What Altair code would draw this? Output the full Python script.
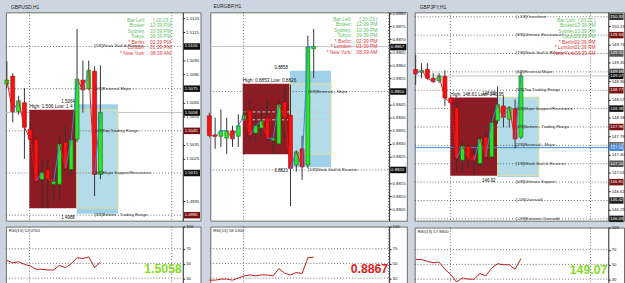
import altair as alt
import pandas as pd

FONT = "Liberation Sans"
C_UP = "#28e628"
C_DN = "#f41414"
C_UP_EDGE = "#0e6e0e"
C_DN_EDGE = "#a00000"
L_UP = "#3f7fe0"
L_DN = "#e01818"
BOX_DARK = "#8c1b24"
BOX_BLUE = "#9fd2ea"
BOX_INNER = "#e6dc98"

INFO_LABELS = ["Bar Left:", "Broker:", "Sydney:", "Tokyo:", "* Berlin:", "* London:", "* New York:"]
INFO_COLORS = ["#5cbf62", "#5cbf62", "#5cbf62", "#5cbf62", "#e03a3a", "#e03a3a", "#e03a3a"]
INFO_VALUES_A = ["[ 20:23 ]", "12:39 PM", "10:39 PM", "09:39 PM", "02:39 PM", "01:39 PM", "08:39 AM"]
INFO_VALUES_B = ["[ 20:22 ]", "12:39 PM", "10:39 PM", "09:39 PM", "02:39 PM", "01:39 PM", "08:39 AM"]
RSI_LEVELS = [70, 50, 30]
RSI_TICKS = [100, 70, 50, 30]

# ---------------- GBPUSD H1 ----------------
GU_O = [1.50783, 1.50839, 1.50587, 1.50650, 1.50461, 1.50391, 1.50105, 1.50175, 1.50070,
        1.50070, 1.50370, 1.50175, 1.50391, 1.50811, 1.50748, 1.50874, 1.50140]
GU_H = [1.50944, 1.50860, 1.50699, 1.50755, 1.50510, 1.50405, 1.50231, 1.50251, 1.50125,
        1.50419, 1.50489, 1.50419, 1.51174, 1.50950, 1.50950, 1.50909, 1.50916]
GU_L = [1.50755, 1.50510, 1.50566, 1.50251, 1.50370, 1.50077, 1.49902, 1.49902, 1.49951,
        1.49951, 1.50161, 1.50147, 1.50370, 1.50580, 1.50741, 1.49986, 1.50105]
GU_C = [1.50811, 1.50587, 1.50664, 1.50475, 1.50391, 1.50091, 1.50154, 1.50105, 1.50091,
        1.50356, 1.50182, 1.50384, 1.50818, 1.50741, 1.50881, 1.50140, 1.50580]
GU_RSI = [54.0, 50.9, 52.3, 48.7, 46.4, 42.0, 42.0, 41.1, 41.1, 47.3, 44.3, 49.6, 57.6, 56.7, 58.9, 44.3, 52.07]
GU_YDOM = [1.49811, 1.51293]
GU_TICKS = [1.5125, 1.5115, 1.5095, 1.5085, 1.5065, 1.5055, 1.5035, 1.5025, 1.4995]
GU_MM_P = [1.5105, 1.5075, 1.5045, 1.5015, 1.4985]
GU_MM_T = ["[7/8]Weak Stall & Reverse", "[6/8]Reversal Major", "[5/8]Top Trading Range",
           "[4/8]Major Support/Resistance", "[3/8]Bottom - Trading Range"]
GU_HL_P = [1.5105, 1.5075, 1.5058, 1.5045, 1.5015, 1.4985]
GU_HL_C = ["#111111", "#111111", "#111111", "#7a1010", "#111111", "#7a1010"]
GU_DAYS = [3.87, 28.2]
GU_RANGE_BOX = [3.85, 11.95, 1.5060, 1.4990]
GU_PROJ_BOX = [11.95, 19.0, 1.5064, 1.4986]
GU_BOX_TEXT = ["High: 1.506  Low: 1.4", "1.5064", "1.4988"]

# ---------------- EURGBP H1 ----------------
EG_O = [0.88407, 0.88334, 0.88329, 0.88322, 0.88350, 0.88329, 0.88394, 0.88429, 0.88341, 0.88360,
        0.88400, 0.88313, 0.88300, 0.88459, 0.88409, 0.88219, 0.88281, 0.88219, 0.88664]
EG_H = [0.88419, 0.88400, 0.88432, 0.88400, 0.88369, 0.88413, 0.88432, 0.88469, 0.88413, 0.88432,
        0.88469, 0.88338, 0.88469, 0.88520, 0.88526, 0.88275, 0.88331, 0.88714, 0.88739]
EG_L = [0.88325, 0.88281, 0.88288, 0.88262, 0.88288, 0.88288, 0.88391, 0.88306, 0.88306, 0.88325,
        0.88306, 0.88262, 0.88294, 0.88319, 0.88062, 0.88194, 0.88162, 0.88206, 0.88551]
EG_C = [0.88332, 0.88329, 0.88350, 0.88350, 0.88319, 0.88369, 0.88410, 0.88332, 0.88369, 0.88388,
        0.88321, 0.88321, 0.88450, 0.88400, 0.88206, 0.88269, 0.88212, 0.88670, 0.88672]
EG_RSI = [27.3, 27.3, 28.7, 28.7, 27.3, 30.0, 33.1, 34.4, 33.1, 34.4, 34.4, 33.1, 42.9, 36.7, 34.4,
          37.6, 36.3, 57.6, 58.53]
EG_YDOM = [0.88006, 0.88803]
EG_TICKS = [0.8880, 0.8875, 0.8870, 0.8865, 0.8860, 0.8855, 0.8845, 0.8840, 0.8835, 0.8830,
            0.8825, 0.8815, 0.8810, 0.8805]
EG_MM_P = [0.8850, 0.8820]
EG_MM_T = ["[2/8]Reversal - Major", "[1/8]Weak Stall & Reverse"]
EG_HL_P = [0.8867, 0.8850, 0.8820]
EG_HL_C = ["#111111", "#111111", "#111111"]
EG_DAYS = [5.88, 30.9]
EG_RANGE_BOX = [5.76, 13.9, 0.8853, 0.8826]
EG_PROJ_BOX = [13.9, 21.0, 0.8858, 0.8821]
EG_BOX_TEXT = ["High: 0.8853  Low: 0.8826", "0.8858", "0.8821"]
EG_DASH_P = [0.88422, 0.88392]

# ---------------- GBPJPY H1 ----------------
GJ_O = [149.21, 149.15, 149.21, 149.02, 148.97, 149.06, 148.60, 148.40, 147.28, 147.58,
        147.39, 147.21, 147.77, 147.35, 148.12, 148.43, 148.15, 148.37, 147.77]
GJ_H = [149.51, 149.34, 149.34, 149.13, 149.13, 149.19, 148.64, 148.50, 147.68, 147.63,
        147.53, 147.80, 147.87, 148.22, 148.85, 148.64, 148.43, 148.57, 149.16]
GJ_L = [148.88, 149.02, 148.99, 148.92, 148.92, 148.43, 148.46, 147.04, 147.00, 147.14,
        146.97, 147.14, 147.32, 147.28, 148.05, 147.98, 147.98, 147.53, 147.73]
GJ_C = [149.11, 149.19, 149.02, 148.95, 149.07, 148.60, 148.50, 147.32, 147.58, 147.32,
        147.28, 147.73, 147.35, 148.08, 148.46, 148.19, 148.40, 147.73, 149.07]
GJ_RSI = [56.7, 56.7, 54.0, 52.3, 53.1, 43.3, 36.3, 26.4, 31.7, 30.0, 30.0, 37.6, 34.4, 45.1,
          50.9, 49.6, 49.6, 43.3, 57.88]
GJ_YDOM = [145.993, 150.422]
GJ_TICKS = [150.13, 149.74, 149.35, 148.96, 148.57, 148.18, 147.79, 147.40, 147.01, 146.62, 146.23]
GJ_MM_P = [150.328, 149.9375, 149.547, 149.156, 148.766, 148.375, 147.984, 147.594, 147.203,
           146.8125, 146.422, 146.031]
GJ_MM_T = ["[+1/8]Overshoot", "[8/8]Ultimate Resistance", "[7/8]Weak Stall & Reverse",
           "[6/8]Reversal Major", "[5/8]Top Trading Range", "[4/8]Major Support/Resistance",
           "[3/8]Bottom - Trading Range", "[2/8]Reversal - Major", "[1/8]Weak Stall & Reverse",
           "[0/8]Ultimate Support", "[-1/8]Oversold", "[-2/8]Extreme Oversold"]
GJ_HL_P = [150.328, 149.9375, 149.547, 149.156, 149.07, 148.766, 148.375, 147.984, 147.594,
           147.545, 147.203, 146.8125, 146.422, 146.031]
GJ_HL_C = ["#333333", "#7a1010", "#555555", "#555555", "#111111", "#7a1010", "#111111", "#7a1010",
           "#555555", "#3d85d8", "#555555", "#7a1010", "#222222", "#222222"]
GJ_DAYS = [5.93, 29.9]
GJ_RANGE_BOX = [5.93, 14.0, 148.61, 146.95]
GJ_PROJ_BOX = [14.0, 21.06, 148.63, 146.92]
GJ_BOX_TEXT = ["High: 148.61  Low: 146.95", "148.63", "146.92"]
GJ_BLUE_LINE = [147.545]

MAIN_H = 212
RSI_H = 60


def make_panel(P):
    W, Pw, a, s = P["W"], P["Pw"], P["a"], P["s"]
    ext = W - Pw
    xs = alt.Scale(domain=[-a / s, (W - a) / s], nice=False, zero=False)
    ys = alt.Scale(domain=P["ydom"], nice=False, zero=False)
    fmt = P["fmt"]

    def X(f):
        return alt.X(f, type="quantitative", scale=xs, axis=None)

    def Y(f, axis=None):
        return alt.Y(f, type="quantitative", scale=ys, axis=axis)

    o, h, l, c = P["o"], P["h"], P["l"], P["c"]
    n = len(o)
    cdf = pd.DataFrame({"i": list(range(n)), "o": o, "h": h, "l": l, "c": c})
    cdf["xl"] = cdf["i"] - 0.34
    cdf["xr"] = cdf["i"] + 0.34
    cdf["col"] = [C_UP if cc >= oo else C_DN for oo, cc in zip(o, c)]
    cdf["edge"] = [C_UP_EDGE if cc >= oo else C_DN_EDGE for oo, cc in zip(o, c)]

    seg = pd.DataFrame({"x": list(range(n - 1)), "x2": list(range(1, n)),
                        "y": c[:-1], "y2": c[1:]})
    seg["col"] = [L_UP if b >= a_ else L_DN for a_, b in zip(c[:-1], c[1:])]

    yaxis = alt.Axis(orient="right", offset=-ext, values=P["ticks"], format=fmt,
                     labelFontSize=4.3, labelFont=FONT, labelColor="#111", tickSize=2,
                     labelPadding=1, domainColor="#222", tickColor="#222", title=None,
                     grid=False, labelOverlap=False, labelBound=False, labelFlush=False)

    cur = pd.DataFrame({"p": [c[-1]]})
    L = []
    L.append(alt.Chart(cur).mark_rule(color="#c4c4c4", strokeWidth=1).encode(
        y=Y("p", yaxis), x=alt.value(0), x2=alt.value(Pw)))

    rb, pb = P["range_box"], P["proj_box"]
    rdf = pd.DataFrame({"x0": [rb[0]], "x1": [rb[1]], "y0": [rb[2]], "y1": [rb[3]]})
    pdf = pd.DataFrame({"x0": [pb[0]], "x1": [pb[1]], "y0": [pb[2]], "y1": [pb[3]]})
    idf = pd.DataFrame({"x0": [pb[0]], "x1": [pb[1]], "y0": [rb[2]], "y1": [rb[3]]})
    L.append(alt.Chart(rdf).mark_rect(color=BOX_DARK).encode(
        x=X("x0"), x2="x1", y=Y("y0"), y2="y1"))
    L.append(alt.Chart(pdf).mark_rect(color=BOX_BLUE).encode(
        x=X("x0"), x2="x1", y=Y("y0"), y2="y1"))
    L.append(alt.Chart(idf).mark_rect(fill="#b3dce8", stroke=BOX_INNER, strokeWidth=1).encode(
        x=X("x0"), x2="x1", y=Y("y0"), y2="y1"))

    if P.get("dash"):
        ddf = pd.DataFrame({"p": P["dash"], "x0": [rb[0]] * len(P["dash"]),
                            "x1": [pb[1]] * len(P["dash"])})
        L.append(alt.Chart(ddf).mark_rule(color="#c9c9c9", strokeDash=[3, 2], strokeWidth=1).encode(
            y=Y("p"), x=X("x0"), x2="x1"))

    mdf = pd.DataFrame({"p": P["mm_p"], "t": P["mm_t"], "x": [P["mm_x"]] * len(P["mm_p"])})
    L.append(alt.Chart(mdf).mark_rule(color="#4a4a4a", strokeDash=[1, 2], strokeWidth=0.8).encode(
        y=Y("p"), x=alt.value(0), x2=alt.value(Pw)))
    ddays = pd.DataFrame({"i": P["days"]})
    L.append(alt.Chart(ddays).mark_rule(color="#4a4a4a", strokeDash=[1, 2], strokeWidth=0.8).encode(
        x=X("i")))
    if P.get("blue"):
        bdf = pd.DataFrame({"p": P["blue"]})
        L.append(alt.Chart(bdf).mark_rule(color="#3d85d8", strokeWidth=1).encode(
            y=Y("p"), x=alt.value(0), x2=alt.value(Pw)))

    # candles
    L.append(alt.Chart(cdf).mark_rule(color="#333333", strokeWidth=1).encode(
        x=X("i"), y=Y("l"), y2="h"))
    L.append(alt.Chart(cdf).mark_rect(strokeWidth=0.6).encode(
        x=X("xl"), x2="xr", y=Y("o"), y2="c",
        fill=alt.Fill("col:N", scale=None), stroke=alt.Stroke("edge:N", scale=None)))
    L.append(alt.Chart(seg).mark_rule(strokeWidth=1).encode(
        x=X("x"), x2="x2", y=Y("y"), y2="y2", color=alt.Color("col:N", scale=None)))

    # labels
    L.append(alt.Chart(mdf).mark_text(align="left", baseline="middle", fontSize=4.3, font=FONT,
                                      color="#333", dx=1).encode(x=X("x"), y=Y("p"), text="t:N"))
    bt = P["box_text"]
    t1 = pd.DataFrame({"x": [rb[0]], "p": [rb[2]], "t": [bt[0]]})
    t2 = pd.DataFrame({"x": [pb[0]], "p": [pb[2]], "t": [bt[1]]})
    t3 = pd.DataFrame({"x": [pb[0]], "p": [pb[3]], "t": [bt[2]]})
    L.append(alt.Chart(t1).mark_text(align="left", baseline="bottom", fontSize=4.8, font=FONT,
                                     color="#111", dy=-0.5).encode(x=X("x"), y=Y("p"), text="t:N"))
    L.append(alt.Chart(t2).mark_text(align="right", baseline="bottom", fontSize=4.5, font=FONT,
                                     color="#111", dx=-2, dy=-0.5).encode(x=X("x"), y=Y("p"), text="t:N"))
    L.append(alt.Chart(t3).mark_text(align="right", baseline="top", fontSize=4.5, font=FONT,
                                     color="#111", dx=-2, dy=1).encode(x=X("x"), y=Y("p"), text="t:N"))

    # info block
    ix, vx, iy = P["info_pos"]
    rows = len(INFO_LABELS)
    info = pd.DataFrame({"lab": INFO_LABELS, "val": P["info_vals"], "col": INFO_COLORS,
                         "r": list(range(rows))})
    info["yy"] = iy + info["r"] * 5.6
    L.append(alt.Chart(info).mark_text(align="right", baseline="middle", fontSize=5, font=FONT).encode(
        x=alt.value(ix), y=alt.Y("yy:Q", scale=None, axis=None), text="lab:N",
        color=alt.Color("col:N", scale=None)))
    L.append(alt.Chart(info).mark_text(align="right", baseline="middle", fontSize=5, font=FONT).encode(
        x=alt.value(vx), y=alt.Y("yy:Q", scale=None, axis=None), text="val:N",
        color=alt.Color("col:N", scale=None)))

    # highlighted price tags on the axis
    hl = pd.DataFrame({"p": P["hl_p"], "col": P["hl_c"]})
    hl["t"] = [format(v, fmt) for v in P["hl_p"]]
    L.append(alt.Chart(hl).mark_rect(yOffset=-3.3, y2Offset=3.3).encode(
        x=alt.value(Pw + 1), x2=alt.value(W - 0.5), y=Y("p"), y2="p",
        color=alt.Color("col:N", scale=None)))
    L.append(alt.Chart(hl).mark_text(align="left", baseline="middle", fontSize=4.3, font=FONT,
                                     color="white").encode(
        x=alt.value(Pw + 2), y=Y("p"), text="t:N"))

    main = alt.layer(*L).resolve_axis(y="independent", x="independent").properties(
        width=W, height=MAIN_H)

    # RSI
    rs = alt.Scale(domain=[20, 100], nice=False, zero=False)
    raxis = alt.Axis(orient="right", offset=-ext, values=RSI_TICKS, format="d",
                     labelFontSize=4.3, labelFont=FONT, labelColor="#111", tickSize=2,
                     labelPadding=1, domainColor="#222", tickColor="#222", title=None,
                     grid=False, labelBound=False, labelFlush=False)
    rdf2 = pd.DataFrame({"i": list(range(n)), "v": P["rsi"]})
    lev = pd.DataFrame({"v": RSI_LEVELS})
    R = []
    R.append(alt.Chart(lev).mark_rule(color="#4a4a4a", strokeDash=[1, 2], strokeWidth=0.8).encode(
        y=alt.Y("v:Q", scale=rs, axis=raxis), x=alt.value(0), x2=alt.value(Pw)))
    R.append(alt.Chart(ddays).mark_rule(color="#4a4a4a", strokeDash=[1, 2], strokeWidth=0.8).encode(
        x=X("i")))
    R.append(alt.Chart(rdf2).mark_line(color="#c01818", strokeWidth=1).encode(
        x=X("i"), y=alt.Y("v:Q", scale=rs, axis=None)))
    lab = pd.DataFrame({"t": ["RSI(13) " + format(P["rsi"][-1], ".4f")]})
    R.append(alt.Chart(lab).mark_text(align="left", baseline="top", fontSize=4.3, font=FONT,
                                      color="#222").encode(
        x=alt.value(3), y=alt.value(3), text="t:N"))
    big = pd.DataFrame({"t": [format(c[-1], P["big_fmt"])]})
    R.append(alt.Chart(big).mark_text(align="right", baseline="alphabetic", fontSize=12.5,
                                      fontWeight="bold", font=FONT, color=P["big_col"]).encode(
        x=alt.value(Pw - 1), y=alt.value(47.5), text="t:N"))
    rsi = alt.layer(*R).resolve_axis(y="independent", x="independent").properties(
        width=W, height=RSI_H)

    return alt.vconcat(main, rsi, spacing=2).resolve_scale(x="independent", y="independent").properties(
        title=alt.TitleParams(P["title"], anchor="start", fontSize=5, offset=1.5, font=FONT,
                              color="#222", fontWeight="normal", dx=7))


P1 = dict(title="GBPUSD,H1", W=198, Pw=180, a=1, s=5.95, o=GU_O, h=GU_H, l=GU_L, c=GU_C,
          rsi=GU_RSI, ydom=GU_YDOM, ticks=GU_TICKS, fmt=".4f", mm_p=GU_MM_P, mm_t=GU_MM_T,
          mm_x=14.8, hl_p=GU_HL_P, hl_c=GU_HL_C, days=GU_DAYS, range_box=GU_RANGE_BOX,
          proj_box=GU_PROJ_BOX, box_text=GU_BOX_TEXT, info_pos=(142, 168, 7.5),
          info_vals=INFO_VALUES_A, big_fmt=".4f", big_col="#86dc1e")
P2 = dict(title="EURGBP,H1", W=200, Pw=182, a=-1, s=5.9, o=EG_O, h=EG_H, l=EG_L, c=EG_C,
          rsi=EG_RSI, ydom=EG_YDOM, ticks=EG_TICKS, fmt=".4f", mm_p=EG_MM_P, mm_t=EG_MM_T,
          mm_x=16.9, hl_p=EG_HL_P, hl_c=EG_HL_C, days=EG_DAYS, range_box=EG_RANGE_BOX,
          proj_box=EG_PROJ_BOX, box_text=EG_BOX_TEXT, info_pos=(144, 170, 6.5),
          info_vals=INFO_VALUES_A, big_fmt=".4f", big_col="#e01b1b", dash=EG_DASH_P)
P3 = dict(title="GBPJPY,H1", W=213, Pw=197, a=1, s=5.95, o=GJ_O, h=GJ_H, l=GJ_L, c=GJ_C,
          rsi=GJ_RSI, ydom=GJ_YDOM, ticks=GJ_TICKS, fmt=".2f", mm_p=GJ_MM_P, mm_t=GJ_MM_T,
          mm_x=17.0, hl_p=GJ_HL_P, hl_c=GJ_HL_C, days=GJ_DAYS, range_box=GJ_RANGE_BOX,
          proj_box=GJ_PROJ_BOX, box_text=GJ_BOX_TEXT, info_pos=(164, 184, 7.5),
          info_vals=INFO_VALUES_B, big_fmt=".2f", big_col="#86dc1e", blue=GJ_BLUE_LINE)

chart = alt.hconcat(make_panel(P1), make_panel(P2), make_panel(P3), spacing=5).resolve_scale(
    x="independent", y="independent"
).properties(
    padding={"left": 4, "top": 1, "right": 0, "bottom": 0},
    background="#cdd6e0",
).configure_view(fill="white", stroke="#6b6b6b", strokeWidth=1)

chart.save("out.html", embed_options={"renderer": "svg", "actions": False})
